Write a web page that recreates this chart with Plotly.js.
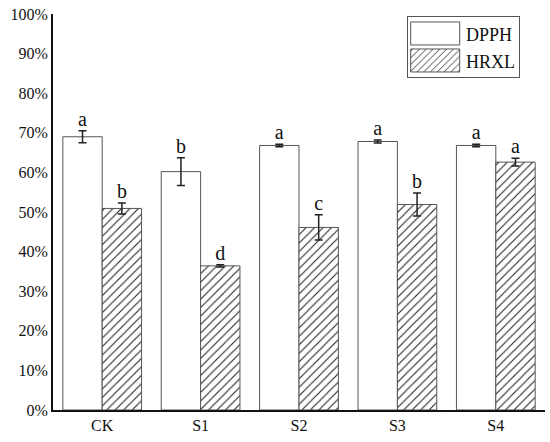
<!DOCTYPE html>
<html>
<head>
<meta charset="utf-8">
<script src="https://cdn.plot.ly/plotly-3.0.1.min.js"></script>
<style>html,body{margin:0;padding:0;background:#fff;}#chart{width:550px;height:442px;}</style>
</head>
<body>
<div id="chart"></div>
<script>
const categories = ['CK', 'S1', 'S2', 'S3', 'S4'];
const dpph = [0.690, 0.602, 0.668, 0.678, 0.668];
const dpphErr = [0.015, 0.035, 0.003, 0.004, 0.003];
const dpphLetters = ['a', 'b', 'a', 'a', 'a'];
const hrxl = [0.509, 0.364, 0.461, 0.519, 0.626];
const hrxlErr = [0.014, 0.003, 0.032, 0.029, 0.010];
const hrxlLetters = ['b', 'd', 'c', 'b', 'a'];

const serif = '"Liberation Serif", "Times New Roman", serif';

function tops(v, e) { return v.map((x, i) => x + e[i]); }

const traces = [
  {
    type: 'bar', name: 'DPPH', x: categories, y: dpph, offsetgroup: 'd',
    marker: {color: '#ffffff', line: {color: '#555555', width: 1}},
    error_y: {type: 'data', array: dpphErr, visible: true, color: '#222', thickness: 1.5, width: 4}
  },
  {
    type: 'bar', name: 'HRXL', x: categories, y: hrxl, offsetgroup: 'h',
    marker: {color: '#ffffff', line: {color: '#555555', width: 1},
      pattern: {shape: '/', fgcolor: '#222', bgcolor: '#ffffff', size: 6, solidity: 0.18}},
    error_y: {type: 'data', array: hrxlErr, visible: true, color: '#222', thickness: 1.5, width: 4}
  },
  {
    type: 'scatter', mode: 'text', x: categories, y: tops(dpph, dpphErr), text: dpphLetters,
    textposition: 'top center', offsetgroup: 'd', showlegend: false, hoverinfo: 'skip',
    textfont: {family: serif, size: 20, color: '#111'}
  },
  {
    type: 'scatter', mode: 'text', x: categories, y: tops(hrxl, hrxlErr), text: hrxlLetters,
    textposition: 'top center', offsetgroup: 'h', showlegend: false, hoverinfo: 'skip',
    textfont: {family: serif, size: 20, color: '#111'}
  }
];

const layout = {
  width: 550, height: 442,
  margin: {l: 53, r: 5, t: 14, b: 32},
  paper_bgcolor: '#fff', plot_bgcolor: '#fff',
  font: {family: serif, color: '#111', size: 16},
  barmode: 'group', bargap: 0.2, bargroupgap: 0, scattermode: 'group',
  xaxis: {showline: true, linecolor: '#111', linewidth: 2, ticks: '', showgrid: false, zeroline: false,
    tickfont: {family: serif, size: 16, color: '#111'}},
  yaxis: {range: [0, 1], dtick: 0.1, tickformat: '.0%', showline: true, linecolor: '#111', linewidth: 2,
    ticks: '', showgrid: false, zeroline: false, tickfont: {family: serif, size: 16, color: '#111'}},
  legend: {x: 0.7195, y: 0.995, xanchor: 'left', yanchor: 'top', bordercolor: '#555', borderwidth: 1,
    bgcolor: '#fff', font: {family: serif, size: 18, color: '#111'}, itemwidth: 50},
  showlegend: true
};

Plotly.newPlot('chart', traces, layout, {displayModeBar: false, staticPlot: true}).then(function (gd) {
  // enlarge legend swatches to match the reference's wide boxes
  const leg = gd.querySelector('.legend');
  if (!leg) return;
  const W = 112, H = 61;
  const bg = leg.querySelector('rect.bg');
  if (bg) { bg.setAttribute('width', W); bg.setAttribute('height', H); }
  gd.querySelectorAll('clipPath[id^="legend"] rect').forEach(r => { r.setAttribute('width', W); r.setAttribute('height', H); });
  const items = leg.querySelectorAll('g.traces');
  const centers = [17.5, 44.5];
  items.forEach((g, i) => {
    g.setAttribute('transform', 'translate(0,' + centers[i] + ')');
    const txt = g.querySelector('text.legendtext');
    if (txt) { txt.setAttribute('x', 59); }
    g.querySelectorAll('.legendpoints path').forEach(p => {
      p.setAttribute('d', 'M-24.5,-11.5H24.5V11.5H-24.5Z');
      p.setAttribute('transform', 'translate(28.2,0)');
    });
  });
});
</script>
</body>
</html>
